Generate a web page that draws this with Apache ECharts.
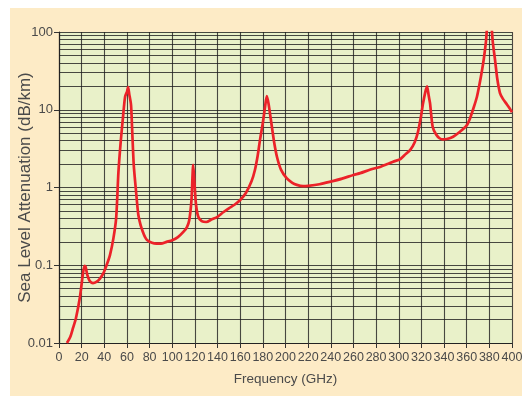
<!DOCTYPE html>
<html>
<head>
<meta charset="utf-8">
<script src="https://cdn.jsdelivr.net/npm/echarts@6/dist/echarts.min.js"></script>
<style>
  html, body { margin: 0; padding: 0; background: #ffffff; }
  #chart { position: absolute; left: 10px; top: 8px; width: 512px; height: 388px; background: #fdebc6; }
</style>
</head>
<body>
<div id="chart"></div>
<script>
// Sea-level atmospheric attenuation versus frequency
const frequencyGHz = [
  7, 10, 12.4, 15, 18.5, 21, 22.5, 23.5, 25, 27, 30, 33, 36, 39, 42, 45, 48, 50.5,
  52.5, 54.5, 56.5, 57.5, 58.5, 60, 61, 62, 63.6, 64.5, 66, 68, 70, 72, 74, 76, 78,
  82, 86, 90, 95, 100, 105, 110, 113, 115, 117, 118.5, 119.5, 121, 123, 126, 130,
  135, 140, 145, 150, 155, 160, 165, 170, 173, 175.5, 177.5, 180, 182, 183.5, 185,
  188, 190, 192.5, 196, 201, 206, 210, 215.5, 220, 230, 239, 250, 260, 266, 275,
  283.5, 290, 295, 301, 305, 310, 314, 317, 319.5, 321.5, 323.5, 325, 326.5, 327.6,
  330, 333, 336, 339, 342.5, 348, 354, 360, 363, 366, 369, 371.5, 373.5, 375, 377,
  380, 383, 385, 387, 389.4, 392, 395, 398, 400
];
const attenuationDbPerKm = [
  0.01, 0.012, 0.0156, 0.021, 0.039, 0.075, 0.098, 0.095, 0.075, 0.063, 0.059, 0.061, 0.067, 0.078, 0.1, 0.135, 0.22, 0.41,
  1.6, 3.9, 8, 11.5, 15, 17, 19.5, 16, 11.5, 6, 1.95, 0.9, 0.45, 0.33, 0.27, 0.23, 0.21,
  0.195, 0.19, 0.19, 0.2, 0.21, 0.23, 0.27, 0.31, 0.38, 0.7, 1.95, 1.2, 0.6, 0.42, 0.37, 0.36,
  0.39, 0.42, 0.48, 0.54, 0.6, 0.69, 0.85, 1.2, 1.68, 2.6, 4.1, 6.8, 11, 15, 12,
  6.0, 3.8, 2.47, 1.7, 1.32, 1.15, 1.08, 1.04, 1.05, 1.1, 1.18, 1.3, 1.45, 1.53, 1.7,
  1.84, 2.0, 2.15, 2.3, 2.6, 3.03, 3.8, 5.2, 8, 12.2, 17, 20, 15, 12.2,
  6.0, 4.8, 4.3, 4.15, 4.2, 4.5, 5.2, 6.3, 7.8, 10.5, 14.6, 22, 32, 44, 75,
  250, 75, 44, 25, 16.4, 13.8, 12.0, 10.4, 9.3
];

// Axis ticks
const xTicks = [0, 20, 40, 60, 80, 100, 120, 140, 160, 180, 200, 220, 240, 260, 280, 300, 320, 340, 360, 380, 400];
const yTickValues = [0.01, 0.1, 1, 10, 100];
const yTickLabels = ['0.01', '0.1', '1', '10', '100'];
const minorMultipliers = [2, 3, 4, 5, 6, 7, 8, 9];
const decadeStarts = [0.01, 0.1, 1, 10];

const FONT = '"Liberation Sans", Arial, sans-serif';
const TEXT = '#4a4a4a';
const GRIDLINE = 'rgba(30,30,30,0.8)';

const points = frequencyGHz.map((f, i) => [f, attenuationDbPerKm[i]]);

const minorLines = [];
decadeStarts.forEach(d => minorMultipliers.forEach(m => minorLines.push({ yAxis: +(d * m).toPrecision(3) })));

const chart = echarts.init(document.getElementById('chart'), null, { renderer: 'canvas' });
chart.setOption({
  animation: false,
  grid: {
    left: 49, top: 24, right: 10, bottom: 53,
    containLabel: false, outerBoundsMode: 'none',
    show: true, backgroundColor: '#e9f1c9', borderWidth: 0
  },
  xAxis: {
    type: 'value', min: 0, max: 400, interval: 20,
    name: 'Frequency (GHz)', nameLocation: 'middle', nameGap: 29, nameMoveOverlap: false,
    nameTextStyle: { fontFamily: FONT, fontSize: 13.5, color: TEXT },
    axisLine: { lineStyle: { color: '#222', width: 1.2 } },
    axisTick: { show: true, length: 5, lineStyle: { color: '#333' } },
    axisLabel: { fontFamily: FONT, fontSize: 12.5, color: TEXT, margin: 8,
      showMinLabel: true, showMaxLabel: true, hideOverlap: false,
      formatter: v => (xTicks.indexOf(v) >= 0 ? String(v) : '') },
    splitLine: { show: true, lineStyle: { color: GRIDLINE, width: 1.1 } }
  },
  yAxis: {
    type: 'log', logBase: 10, min: 0.01, max: 100, interval: 1,
    name: 'Sea Level Attenuation (dB/km)', nameLocation: 'middle', nameGap: 25, nameMoveOverlap: false,
    nameTextStyle: { fontFamily: FONT, fontSize: 17, color: TEXT },
    axisLine: { show: true, lineStyle: { color: '#222', width: 1.2 } },
    axisTick: { show: true, length: 5, lineStyle: { color: '#333' } },
    axisLabel: { fontFamily: FONT, fontSize: 13, color: TEXT, margin: 6,
      formatter: v => {
        const i = yTickValues.findIndex(t => Math.abs(Math.log10(t) - Math.log10(v)) < 1e-6);
        return i >= 0 ? yTickLabels[i] : '';
      } },
    splitLine: { show: true, lineStyle: { color: GRIDLINE, width: 1.1 } }
  },
  series: [
    {
      name: 'minor grid', type: 'line', data: [], z: 1, silent: true,
      markLine: {
        silent: true, symbol: ['none', 'none'], animation: false,
        label: { show: false },
        lineStyle: { type: 'solid', color: GRIDLINE, width: 1.1 },
        data: minorLines
      }
    },
    {
      name: 'attenuation', type: 'line', data: points, z: 5,
      showSymbol: false, smooth: 0.25, clip: true,
      lineStyle: { color: '#ec2229', width: 2.7 }
    }
  ]
});
</script>
</body>
</html>
